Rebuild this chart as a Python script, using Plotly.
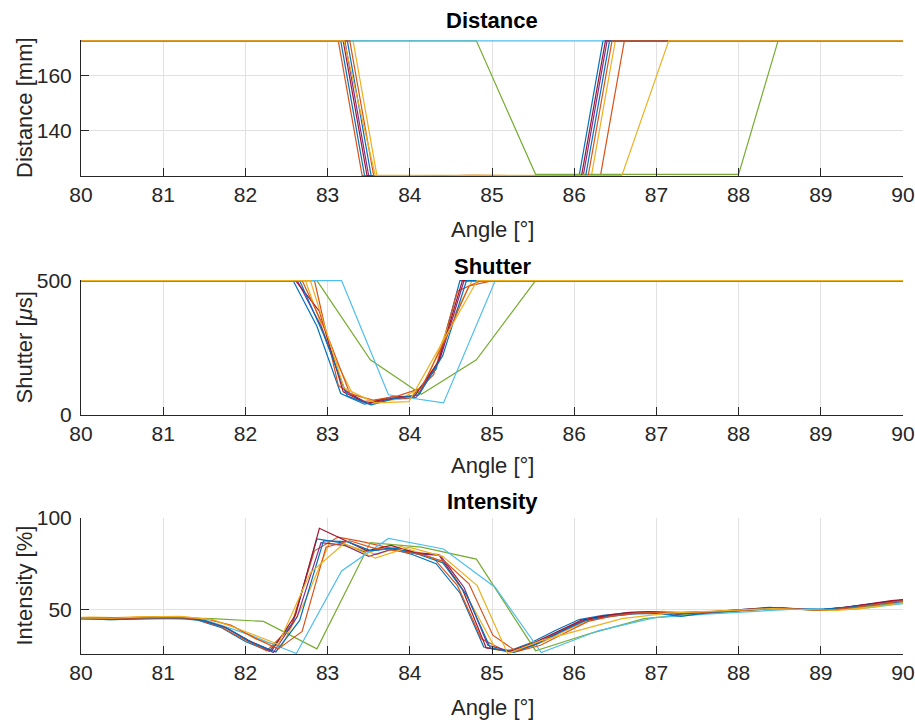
import plotly.graph_objects as go

# ---------------- data ----------------
x_ticks = [80, 81, 82, 83, 84, 85, 86, 87, 88, 89, 90]
dist_ticks = [140, 160]
shut_ticks = [0, 500]
int_ticks = [50, 100]

colors = ["#0072BD", "#D95319", "#EDB120", "#7E2F8E", "#77AC30", "#4DBEEE",
          "#A2142F", "#0072BD", "#D95319", "#EDB120"]

# series 1 (blue)
ang_1 = [79.68, 79.97, 80.26, 80.55, 80.84, 81.13, 81.42, 81.71, 82.00, 82.29, 82.58, 82.87, 83.16, 83.45, 83.74, 84.03, 84.32, 84.61, 84.90, 85.19, 85.48, 85.77, 86.06, 86.35, 86.64, 86.93, 87.22, 87.51, 87.80, 88.09, 88.38, 88.67, 88.96, 89.25, 89.54, 89.83, 90.12]
dist_1 = [172.6, 172.6, 172.6, 172.6, 172.6, 172.6, 172.6, 172.6, 172.6, 172.6, 172.6, 172.6, 172.6, 123.4, 123.4, 123.4, 123.4, 123.5, 123.4, 123.4, 123.4, 123.5, 123.4, 172.6, 172.6, 172.6, 172.6, 172.6, 172.6, 172.6, 172.6, 172.6, 172.6, 172.6, 172.6, 172.6, 172.6]
shut_1 = [500, 500, 500, 500, 500, 500, 500, 500, 500, 500, 500, 330, 80, 40, 60, 70, 170, 500, 500, 500, 500, 500, 500, 500, 500, 500, 500, 500, 500, 500, 500, 500, 500, 500, 500, 500, 500]
int_1 = [45.2, 45.0, 44.6, 45.0, 45.6, 45.4, 44.2, 40.0, 32.5, 27.2, 43.0, 88.5, 86.5, 81.5, 83.5, 80.0, 75.0, 59.0, 29.5, 27.0, 32.0, 38.5, 44.5, 46.8, 48.2, 48.8, 47.0, 48.2, 49.2, 50.2, 51.2, 50.2, 49.8, 51.0, 52.6, 54.2, 55.8]

# series 2 (orange)
ang_2 = [79.65, 79.94, 80.23, 80.52, 80.81, 81.10, 81.39, 81.68, 81.97, 82.26, 82.55, 82.84, 83.13, 83.42, 83.71, 84.00, 84.29, 84.58, 84.87, 85.16, 85.45, 85.74, 86.03, 86.32, 86.61, 86.90, 87.19, 87.48, 87.77, 88.06, 88.35, 88.64, 88.93, 89.22, 89.51, 89.80, 90.09]
dist_2 = [172.6, 172.6, 172.6, 172.6, 172.6, 172.6, 172.6, 172.6, 172.6, 172.6, 172.6, 172.6, 172.6, 123.5, 123.4, 123.4, 123.4, 123.4, 123.5, 123.4, 123.4, 123.4, 123.5, 123.5, 172.6, 172.6, 172.6, 172.6, 172.6, 172.6, 172.6, 172.6, 172.6, 172.6, 172.6, 172.6, 172.6]
shut_2 = [500, 500, 500, 500, 500, 500, 500, 500, 500, 500, 500, 500, 110, 50, 58, 62, 150, 460, 500, 500, 500, 500, 500, 500, 500, 500, 500, 500, 500, 500, 500, 500, 500, 500, 500, 500, 500]
int_2 = [44.5, 44.8, 45.0, 45.2, 45.8, 45.5, 44.8, 41.0, 34.0, 27.5, 40.0, 82.0, 89.5, 87.0, 84.0, 82.0, 78.0, 63.0, 34.0, 27.5, 29.5, 36.0, 42.5, 46.0, 47.5, 48.5, 48.0, 48.8, 49.0, 49.8, 50.8, 50.4, 49.6, 50.8, 52.2, 54.2, 55.6]

# series 3 (yellow)
ang_3 = [79.83, 80.12, 80.41, 80.70, 80.99, 81.28, 81.57, 81.86, 82.15, 82.44, 82.73, 83.02, 83.31, 83.60, 83.89, 84.18, 84.47, 84.76, 85.05, 85.34, 85.63, 85.92, 86.21, 86.50, 86.79, 87.08, 87.37, 87.66, 87.95, 88.24, 88.53, 88.82, 89.11, 89.40, 89.69, 89.98, 90.27]
dist_3 = [172.6, 172.6, 172.6, 172.6, 172.6, 172.6, 172.6, 172.6, 172.6, 172.6, 172.6, 172.6, 172.6, 123.5, 123.5, 123.4, 123.4, 123.4, 123.4, 123.5, 123.4, 123.4, 123.5, 172.6, 172.6, 172.6, 172.6, 172.6, 172.6, 172.6, 172.6, 172.6, 172.6, 172.6, 172.6, 172.6, 172.6]
shut_3 = [500, 500, 500, 500, 500, 500, 500, 500, 500, 500, 500, 250, 75, 50, 60, 110, 330, 500, 500, 500, 500, 500, 500, 500, 500, 500, 500, 500, 500, 500, 500, 500, 500, 500, 500, 500, 500]
int_3 = [45.5, 45.8, 45.5, 46.0, 46.0, 45.8, 44.6, 40.5, 33.5, 30.0, 55.0, 86.0, 84.0, 80.0, 84.5, 80.0, 74.0, 52.0, 28.0, 27.5, 32.5, 39.0, 44.5, 46.5, 48.0, 49.0, 48.5, 48.6, 49.2, 50.2, 50.8, 50.2, 49.8, 50.6, 52.0, 53.8, 55.0]

# series 4 (purple)
ang_4 = [79.73, 80.02, 80.31, 80.60, 80.89, 81.18, 81.47, 81.76, 82.05, 82.34, 82.63, 82.92, 83.21, 83.50, 83.79, 84.08, 84.37, 84.66, 84.95, 85.24, 85.53, 85.82, 86.11, 86.40, 86.69, 86.98, 87.27, 87.56, 87.85, 88.14, 88.43, 88.72, 89.01, 89.30, 89.59, 89.88, 90.17]
dist_4 = [172.6, 172.6, 172.6, 172.6, 172.6, 172.6, 172.6, 172.6, 172.6, 172.6, 172.6, 172.6, 172.6, 123.4, 123.4, 123.5, 123.4, 123.4, 123.4, 123.4, 123.5, 123.4, 123.4, 172.6, 172.6, 172.6, 172.6, 172.6, 172.6, 172.6, 172.6, 172.6, 172.6, 172.6, 172.6, 172.6, 172.6]
shut_4 = [500, 500, 500, 500, 500, 500, 500, 500, 500, 500, 500, 330, 90, 42, 62, 66, 210, 500, 500, 500, 500, 500, 500, 500, 500, 500, 500, 500, 500, 500, 500, 500, 500, 500, 500, 500, 500]
int_4 = [45.8, 45.5, 45.2, 45.4, 45.6, 45.8, 44.5, 40.2, 32.8, 26.5, 46.0, 86.5, 85.0, 79.0, 83.0, 80.5, 79.5, 62.0, 30.5, 27.0, 31.0, 37.5, 44.0, 46.2, 48.0, 48.6, 48.0, 48.4, 49.0, 50.0, 51.0, 50.2, 49.8, 51.2, 53.0, 54.6, 56.0]

# series 5 (green)
ang_5 = [79.75, 80.40, 81.00, 81.60, 82.22, 82.87, 83.52, 84.14, 84.81, 85.53, 86.20, 86.85, 87.45, 88.00, 88.48, 89.05, 89.60, 90.15]
dist_5 = [172.6, 172.6, 172.6, 172.6, 172.6, 172.6, 172.6, 172.6, 172.6, 123.9, 123.9, 123.9, 123.9, 123.9, 172.6, 172.6, 172.6, 172.6]
shut_5 = [500, 500, 500, 500, 500, 500, 205, 77, 205, 500, 500, 500, 500, 500, 500, 500, 500, 500]
int_5 = [45.0, 44.5, 45.5, 45.0, 43.5, 28.5, 86.5, 84.0, 77.5, 27.5, 37.0, 45.0, 47.5, 49.0, 50.5, 49.5, 52.0, 54.0]

# series 6 (light blue)
ang_6 = [79.90, 80.35, 80.90, 81.50, 82.06, 82.62, 83.17, 83.74, 84.41, 85.04, 85.60, 86.30, 86.98, 87.60, 88.20, 88.80, 89.40, 90.05]
dist_6 = [172.6, 172.6, 172.6, 172.6, 172.6, 172.6, 172.6, 172.6, 172.6, 172.6, 172.6, 172.6, 172.6, 172.6, 172.6, 172.6, 172.6, 172.6]
shut_6 = [500, 500, 500, 500, 500, 500, 500, 75, 45, 500, 500, 500, 500, 500, 500, 500, 500, 500]
int_6 = [44.5, 45.0, 45.0, 44.5, 36.0, 26.0, 71.0, 88.8, 83.0, 62.0, 26.5, 38.5, 45.5, 47.5, 49.0, 50.5, 50.0, 53.5]

# series 7 (dark red)
ang_7 = [79.71, 80.00, 80.29, 80.58, 80.87, 81.16, 81.45, 81.74, 82.03, 82.32, 82.61, 82.90, 83.19, 83.48, 83.77, 84.06, 84.35, 84.64, 84.93, 85.22, 85.51, 85.80, 86.09, 86.38, 86.67, 86.96, 87.25, 87.54, 87.83, 88.12, 88.41, 88.70, 88.99, 89.28, 89.57, 89.86, 90.15]
dist_7 = [172.6, 172.6, 172.6, 172.6, 172.6, 172.6, 172.6, 172.6, 172.6, 172.6, 172.6, 172.6, 172.6, 123.4, 123.4, 123.4, 123.5, 123.4, 123.4, 123.4, 123.4, 123.4, 123.5, 172.6, 172.6, 172.6, 172.6, 172.6, 172.6, 172.6, 172.6, 172.6, 172.6, 172.6, 172.6, 172.6, 172.6]
shut_7 = [500, 500, 500, 500, 500, 500, 500, 500, 500, 500, 500, 386, 86, 43, 67, 70, 200, 500, 500, 500, 500, 500, 500, 500, 500, 500, 500, 500, 500, 500, 500, 500, 500, 500, 500, 500, 500]
int_7 = [45.0, 45.2, 45.2, 45.0, 45.8, 45.6, 44.4, 40.6, 33.2, 27.5, 47.0, 94.3, 88.0, 82.0, 85.0, 81.0, 80.0, 61.0, 29.0, 27.2, 31.8, 38.0, 44.2, 46.6, 48.4, 48.8, 47.6, 48.4, 49.2, 50.0, 51.0, 50.4, 49.6, 51.0, 52.8, 54.8, 56.0]

# series 8 (blue)
ang_8 = [79.76, 80.05, 80.34, 80.63, 80.92, 81.21, 81.50, 81.79, 82.08, 82.37, 82.66, 82.95, 83.24, 83.53, 83.82, 84.11, 84.40, 84.69, 84.98, 85.27, 85.56, 85.85, 86.14, 86.43, 86.72, 87.01, 87.30, 87.59, 87.88, 88.17, 88.46, 88.75, 89.04, 89.33, 89.62, 89.91, 90.20]
dist_8 = [172.6, 172.6, 172.6, 172.6, 172.6, 172.6, 172.6, 172.6, 172.6, 172.6, 172.6, 172.6, 172.6, 123.4, 123.5, 123.4, 123.4, 123.4, 123.4, 123.5, 123.4, 123.4, 123.4, 172.6, 172.6, 172.6, 172.6, 172.6, 172.6, 172.6, 172.6, 172.6, 172.6, 172.6, 172.6, 172.6, 172.6]
shut_8 = [500, 500, 500, 500, 500, 500, 500, 500, 500, 500, 500, 300, 70, 38, 62, 75, 220, 500, 500, 500, 500, 500, 500, 500, 500, 500, 500, 500, 500, 500, 500, 500, 500, 500, 500, 500, 500]
int_8 = [44.8, 45.0, 44.5, 44.8, 45.3, 45.3, 44.0, 39.5, 32.0, 26.8, 44.0, 87.5, 87.0, 82.0, 83.5, 80.0, 75.5, 58.0, 29.0, 26.6, 31.5, 38.2, 44.0, 46.2, 47.6, 47.8, 46.2, 48.0, 49.0, 50.0, 51.0, 50.0, 50.2, 51.2, 52.4, 54.0, 55.2]

# series 9 (orange)
ang_9 = [79.79, 80.08, 80.37, 80.66, 80.95, 81.24, 81.53, 81.82, 82.11, 82.40, 82.69, 82.98, 83.27, 83.56, 83.85, 84.14, 84.43, 84.72, 85.01, 85.30, 85.59, 85.88, 86.17, 86.46, 86.75, 87.04, 87.33, 87.62, 87.91, 88.20, 88.49, 88.78, 89.07, 89.36, 89.65, 89.94, 90.23]
dist_9 = [172.6, 172.6, 172.6, 172.6, 172.6, 172.6, 172.6, 172.6, 172.6, 172.6, 172.6, 172.6, 172.6, 123.5, 123.4, 123.4, 123.4, 123.5, 123.4, 123.4, 123.4, 123.4, 123.4, 172.6, 172.6, 172.6, 172.6, 172.6, 172.6, 172.6, 172.6, 172.6, 172.6, 172.6, 172.6, 172.6, 172.6]
shut_9 = [500, 500, 500, 500, 500, 500, 500, 500, 500, 500, 500, 310, 80, 55, 70, 100, 280, 480, 500, 500, 500, 500, 500, 500, 500, 500, 500, 500, 500, 500, 500, 500, 500, 500, 500, 500, 500]
int_9 = [45.4, 45.6, 45.4, 45.2, 45.6, 45.4, 44.8, 41.5, 34.5, 28.5, 38.0, 84.0, 87.5, 83.5, 82.0, 80.0, 76.0, 64.0, 36.0, 27.0, 30.5, 37.0, 43.5, 46.4, 48.0, 48.6, 48.2, 48.6, 49.4, 50.2, 50.6, 50.0, 49.6, 50.8, 52.6, 54.4, 55.6]

# series 10 (yellow)
ang_10 = [79.95, 80.37, 80.78, 81.20, 81.60, 82.00, 82.40, 82.79, 83.20, 83.58, 83.99, 84.40, 84.82, 85.19, 85.60, 86.00, 86.58, 87.15, 87.60, 88.00, 88.40, 88.80, 89.20, 89.60, 90.05]
dist_10 = [172.6, 172.6, 172.6, 172.6, 172.6, 172.6, 172.6, 172.6, 172.6, 123.5, 123.4, 123.4, 123.5, 123.4, 123.4, 123.4, 123.5, 172.6, 172.6, 172.6, 172.6, 172.6, 172.6, 172.6, 172.6]
shut_10 = [500, 500, 500, 500, 500, 500, 500, 500, 100, 45, 50, 270, 500, 500, 500, 500, 500, 500, 500, 500, 500, 500, 500, 500, 500]
int_10 = [45.5, 45.2, 46.0, 46.2, 44.5, 38.0, 31.0, 70.0, 86.0, 78.0, 84.0, 79.0, 63.0, 26.0, 33.0, 38.0, 45.0, 48.0, 49.0, 49.5, 50.5, 50.0, 49.5, 51.0, 54.0]

angles = [ang_1, ang_2, ang_3, ang_4, ang_5, ang_6, ang_7, ang_8, ang_9, ang_10]
distances = [dist_1, dist_2, dist_3, dist_4, dist_5, dist_6, dist_7, dist_8, dist_9, dist_10]
shutters = [shut_1, shut_2, shut_3, shut_4, shut_5, shut_6, shut_7, shut_8, shut_9, shut_10]
intensities = [int_1, int_2, int_3, int_4, int_5, int_6, int_7, int_8, int_9, int_10]

for a, d, s, it in zip(angles, distances, shutters, intensities):
    assert len(a) == len(d) == len(s) == len(it), (len(a), len(d), len(s), len(it))

# ---------------- figure ----------------
FONT = "Liberation Sans, Arial, Helvetica, sans-serif"
AX = "#262626"
GRID = "#E1E1E1"
W, H = 915, 720

fig = go.Figure()
for a, d, s, it, c in zip(angles, distances, shutters, intensities, colors):
    ln = dict(color=c, width=1.2)
    fig.add_trace(go.Scatter(x=a, y=d, mode="lines", line=ln, xaxis="x", yaxis="y",
                             showlegend=False, hoverinfo="skip"))
    fig.add_trace(go.Scatter(x=a, y=s, mode="lines", line=ln, xaxis="x2", yaxis="y2",
                             showlegend=False, hoverinfo="skip"))
    fig.add_trace(go.Scatter(x=a, y=it, mode="lines", line=ln, xaxis="x3", yaxis="y3",
                             showlegend=False, hoverinfo="skip"))


def py(px):
    return 1 - px / H


def xax(anchor):
    return dict(range=[80, 90], tickvals=x_ticks, ticktext=[str(v) for v in x_ticks],
                domain=[0, 1], anchor=anchor, automargin=False,
                showgrid=True, gridcolor=GRID, gridwidth=1,
                showline=True, linecolor=AX, linewidth=1, mirror=False, zeroline=False,
                ticks="inside", ticklen=8, tickwidth=1, tickcolor=AX,
                tickfont=dict(family=FONT, size=21, color=AX), ticklabelstandoff=0)


def yax(anchor, dom, rng, tv):
    return dict(range=rng, tickvals=tv, ticktext=[str(v) for v in tv],
                domain=dom, anchor=anchor, automargin=False,
                showgrid=True, gridcolor=GRID, gridwidth=1,
                showline=True, linecolor=AX, linewidth=1, mirror=False, zeroline=False,
                ticks="inside", ticklen=8, tickwidth=1, tickcolor=AX,
                tickfont=dict(family=FONT, size=21, color=AX), ticklabelstandoff=4)


fig.update_layout(
    template="none",
    width=W, height=H,
    margin=dict(l=81, r=12, t=0, b=0, pad=0),
    paper_bgcolor="white", plot_bgcolor="white",
    xaxis=xax("y"), yaxis=yax("x", [py(176), py(40)], [123.3, 172.9], dist_ticks),
    xaxis2=xax("y2"), yaxis2=yax("x2", [py(415), py(280)], [0, 502], shut_ticks),
    xaxis3=xax("y3"), yaxis3=yax("x3", [py(654), py(517.5)], [25.7, 100.2], int_ticks),
)

ann = []
titles = [("Distance", 20), ("Shutter", 266), ("Intensity", 501)]
for t, ypx in titles:
    ann.append(dict(text="<b>%s</b>" % t, x=0.5, y=py(ypx), xref="paper", yref="paper",
                    xanchor="center", yanchor="middle", showarrow=False,
                    font=dict(family=FONT, size=22, color="black")))
for ypx in [229, 465, 707]:
    ann.append(dict(text="Angle [°]", x=0.5, y=py(ypx), xref="paper", yref="paper",
                    xanchor="center", yanchor="middle", showarrow=False,
                    font=dict(family=FONT, size=22, color=AX)))
ylabels = [("Distance [mm]", 108), ("Shutter [<i>μ</i>s]", 347.5), ("Intensity [%]", 585.5)]
for t, ypx in ylabels:
    ann.append(dict(text=t, x=(24 - 81) / 822, y=py(ypx), xref="paper", yref="paper",
                    xanchor="center", yanchor="middle", showarrow=False, textangle=-90,
                    font=dict(family=FONT, size=22, color=AX)))
fig.update_layout(annotations=ann)

fig.write_html("out.html")
